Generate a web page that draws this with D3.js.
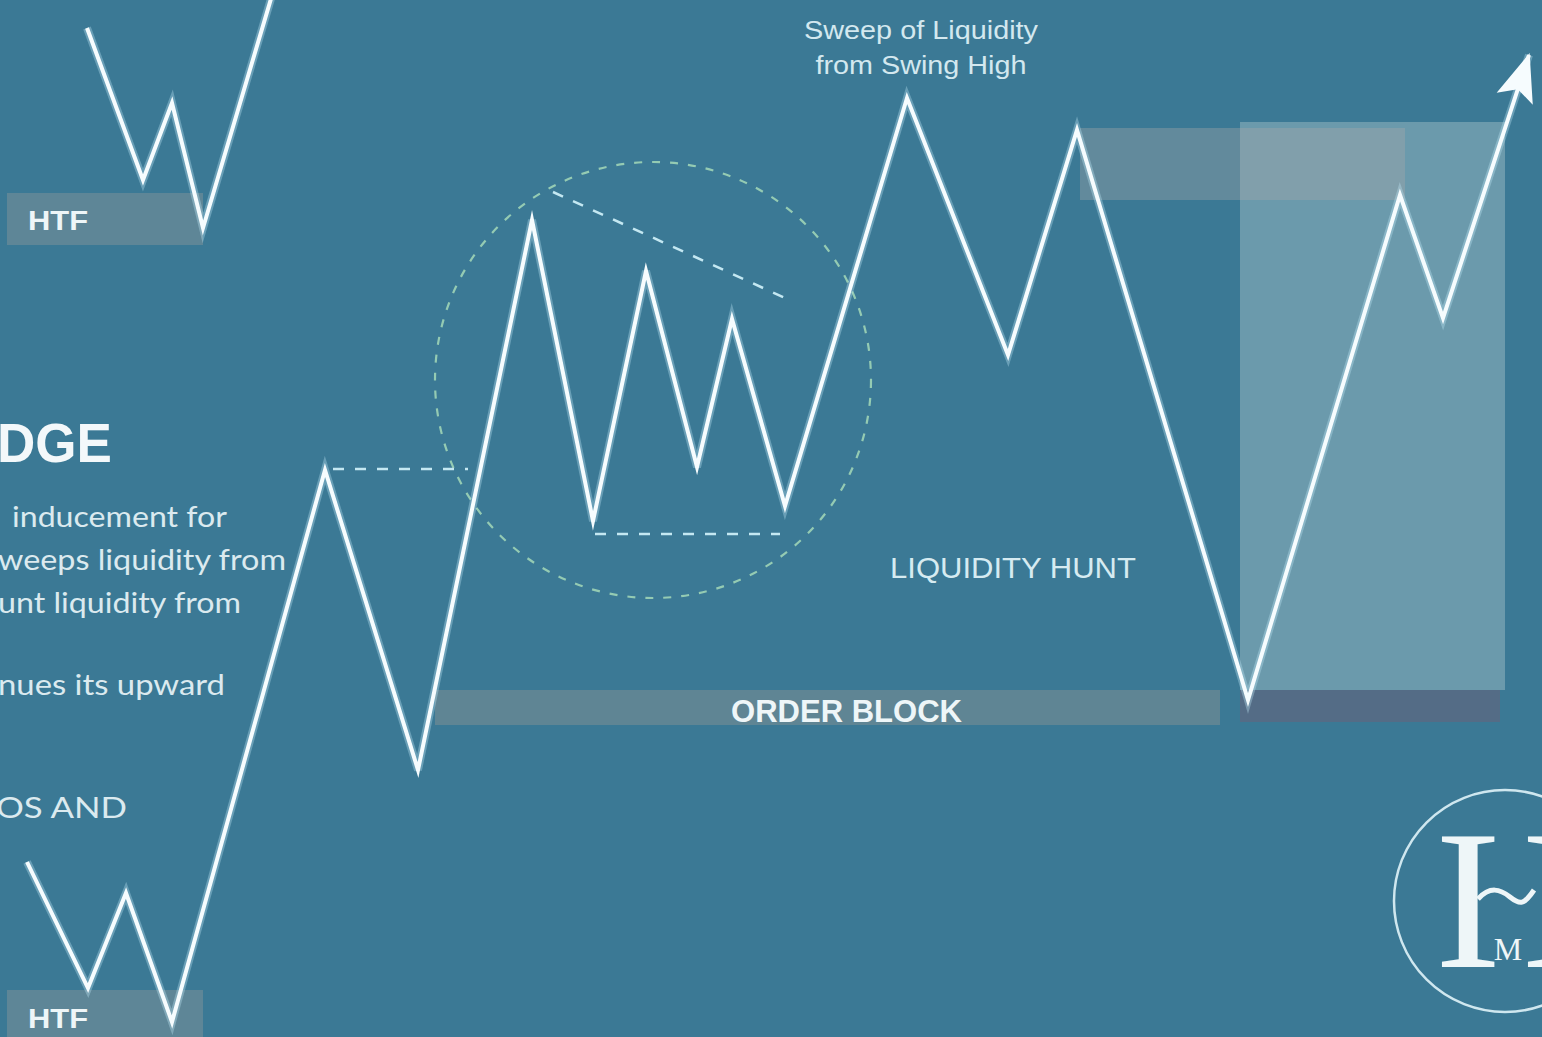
<!DOCTYPE html>
<html>
<head>
<meta charset="utf-8">
<script src="https://cdn.jsdelivr.net/npm/d3@7"></script>
<style>
  html, body { margin: 0; padding: 0; background: #3b7995; overflow: hidden; }
  svg { display: block; }
</style>
</head>
<body>
<div id="chart"></div>
<script>
// price swing path (x = bar index, y = price)
const swingX = [2.7, 8.8, 12.6, 17.2, 32.5, 41.8, 53.2, 59.3, 64.6, 69.7, 73.2, 78.5, 90.7, 100.8, 107.7, 124.8, 140.0, 144.3, 152.9];
const swingY = [17.5, 4.9, 14.4, 1.5, 56.7, 26.7, 81.7, 51.6, 76.6, 57.0, 71.8, 53.1, 93.9, 68.2, 90.7, 33.7, 84.2, 71.9, 98.2];

// higher timeframe swing shown at top left
const htfX = [8.7, 14.3, 17.2, 20.3, 27.3];
const htfY = [100.9, 85.7, 93.4, 80.9, 104.5];

// zones: [x0, x1, yTop, yBottom]
const htfZones = [[0.7, 20.3, 84.4, 79.2], [0.7, 20.3, 4.7, -1]];
const orderBlock = [43.5, 122.0, 34.7, 31.2];
const entryZone = [124.0, 150.5, 91.5, 34.7];
const entryBase = [124.0, 150.0, 34.7, 31.5];
const sweepBand = [108.0, 140.5, 90.9, 83.7];

// dashed levels: [x0, y0, x1, y1]
const dashedLevels = [
  [33.3, 56.8, 46.8, 56.8],
  [55.3, 84.5, 78.5, 73.9],
  [59.5, 50.3, 78.0, 50.3]
];
const focusCircle = [65.3, 65.7, 21.8];

const leftLines = ['inducement for', 'weeps liquidity from', 'unt liquidity from', 'nues its upward', 'OS AND'];
const leftLineY = [51.0, 46.7, 42.4, 34.2, 21.9];
const leftLineX = [1.2, -0.2, -0.2, -0.2, -0.4];
const leftLineW = [215, 288, 243, 227, 131];

const W = 1542, H = 1037;
const x = d3.scaleLinear().domain([0, 154.2]).range([0, W]);
const y = d3.scaleLinear().domain([0, 103.7]).range([H, 0]);

const svg = d3.select('#chart').append('svg')
  .attr('width', W).attr('height', H);

svg.append('rect').attr('width', W).attr('height', H).attr('fill', '#3b7995');

const defs = svg.append('defs');
defs.append('marker')
  .attr('id', 'arrow')
  .attr('markerUnits', 'userSpaceOnUse')
  .attr('viewBox', '-50 -25 60 50')
  .attr('markerWidth', 60).attr('markerHeight', 50)
  .attr('refX', 0).attr('refY', 0)
  .attr('orient', 'auto')
  .append('path')
  .attr('d', 'M2,0 L-46,-19 L-36,0 L-46,19 Z')
  .attr('fill', '#f6fcfe');

function zone(z, fill) {
  svg.append('rect')
    .attr('x', x(z[0])).attr('y', y(z[2]))
    .attr('width', x(z[1]) - x(z[0]))
    .attr('height', y(z[3]) - y(z[2]))
    .attr('fill', fill);
}

// zones
htfZones.forEach(z => zone(z, '#5e8697'));
zone(orderBlock, '#5f8594');
zone(entryZone, '#6b9aac');
zone(entryBase, '#546c86');
zone(sweepBand, 'rgba(168,168,168,0.36)');

// dashed circle + levels
svg.append('circle')
  .attr('cx', x(focusCircle[0])).attr('cy', y(focusCircle[1]))
  .attr('r', x(focusCircle[2]) - x(0))
  .attr('fill', 'none')
  .attr('stroke', '#9fd4b6').attr('stroke-opacity', 0.9)
  .attr('stroke-width', 2.2)
  .attr('stroke-dasharray', '8 10');

svg.selectAll('line.level')
  .data(dashedLevels)
  .enter().append('line')
  .attr('class', 'level')
  .attr('x1', d => x(d[0])).attr('y1', d => y(d[1]))
  .attr('x2', d => x(d[2])).attr('y2', d => y(d[3]))
  .attr('stroke', '#c4e8f2')
  .attr('stroke-width', 2.5)
  .attr('stroke-dasharray', '11 11');

// swing lines
const line = d3.line().x(d => x(d[0])).y(d => y(d[1]));
const mainPts = swingX.map((v, i) => [v, swingY[i]]);
const htfPts = htfX.map((v, i) => [v, htfY[i]]);

[htfPts, mainPts].forEach((pts, k) => {
  svg.append('path').attr('d', line(pts))
    .attr('fill', 'none').attr('stroke', '#bfe9f5')
    .attr('stroke-opacity', 0.35).attr('stroke-width', 8)
    .attr('stroke-linejoin', 'miter');
  const p = svg.append('path').attr('d', line(pts))
    .attr('fill', 'none').attr('stroke', '#f6fcfe')
    .attr('stroke-width', 4)
    .attr('stroke-linejoin', 'miter').attr('stroke-miterlimit', 20);
  if (k == 1) p.attr('marker-end', 'url(#arrow)');
});

// texts
const txt = (t, px, py, o) => svg.append('text')
  .attr('x', px).attr('y', py)
  .attr('fill', o.fill || '#e2eff3')
  .attr('font-family', o.family || 'Liberation Sans, Arial, sans-serif')
  .attr('font-size', o.size)
  .attr('font-weight', o.weight || 400)
  .attr('text-anchor', o.anchor || 'start')
  .attr('textLength', o.len)
  .attr('lengthAdjust', 'spacingAndGlyphs')
  .text(t);

txt('HTF', 28, 230, {size: 28, weight: 700, len: 60, fill: '#eef6f8'});
txt('HTF', 28, 1028, {size: 28, weight: 700, len: 60, fill: '#eef6f8'});

txt('DGE', -3, 462, {size: 56, weight: 700, len: 115, fill: '#f3f8fa'});
leftLines.forEach((t, i) => txt(t, x(leftLineX[i]), y(leftLineY[i]),
  {size: 28, family: 'Lato, Open Sans, sans-serif', len: leftLineW[i], fill: '#dbeaef'}));

txt('Sweep of Liquidity', 921, 39, {size: 26, anchor: 'middle', len: 234, fill: '#d3e8ef'});
txt('from Swing High', 921, 74, {size: 26, anchor: 'middle', len: 211, fill: '#d3e8ef'});
txt('LIQUIDITY HUNT', 890, 578, {size: 30, len: 246, fill: '#d6ebf1'});
txt('ORDER BLOCK', 731, 722, {size: 31, weight: 700, len: 231, fill: '#eef6f8'});

// logo
const logo = svg.append('g');
logo.append('circle').attr('cx', 1505).attr('cy', 901).attr('r', 111)
  .attr('fill', 'none').attr('stroke', '#cfe7ef').attr('stroke-width', 2.5);
[1468, 1554].forEach(cx => logo.append('text')
  .attr('x', cx).attr('y', 967)
  .attr('text-anchor', 'middle')
  .attr('font-family', 'Liberation Serif, DejaVu Serif, serif')
  .attr('font-size', 200)
  .attr('fill', '#eef6f8')
  .text('I'));
logo.append('path')
  .attr('d', 'M1478,899 C1490,886 1500,889 1510,897 S1524,905 1534,890')
  .attr('fill', 'none').attr('stroke', '#eef6f8').attr('stroke-width', 5);
logo.append('text')
  .attr('x', 1508).attr('y', 960)
  .attr('text-anchor', 'middle')
  .attr('font-family', 'Liberation Serif, DejaVu Serif, serif')
  .attr('font-size', 32)
  .attr('fill', '#eef6f8')
  .text('M');
</script>
</body>
</html>
